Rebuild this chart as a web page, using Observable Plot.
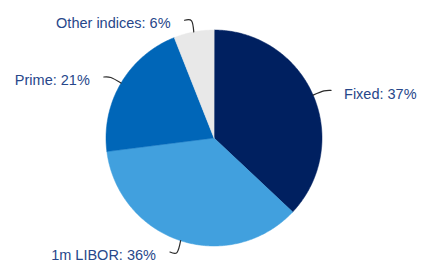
<!DOCTYPE html>
<html><head><meta charset="utf-8">
<script src="https://cdn.jsdelivr.net/npm/d3@7"></script>
<script src="https://cdn.jsdelivr.net/npm/@observablehq/plot@0.6"></script>
<style>body{margin:0;background:#fff}</style>
</head><body><div id="chart"></div>
<script>
const categories = ["Fixed", "1m LIBOR", "Prime", "Other indices"];
const shares = [37, 36, 21, 6];
const colors = ["#002060", "#41a0de", "#0066b8", "#e8e8e8"];

const W = 421, H = 271, R = 108, CX = 213.5, CY = 137.5;
const total = d3.sum(shares);
const slices = [];
let acc = 0;
categories.forEach((name, i) => {
  const a0 = acc / total * 2 * Math.PI;
  acc += shares[i];
  const a1 = acc / total * 2 * Math.PI;
  slices.push({name, value: shares[i], a0, a1, mid: (a0 + a1) / 2});
});

// wedge polygons
const wedgePts = [];
for (const s of slices) {
  wedgePts.push({name: s.name, x: 0, y: 0});
  const n = Math.max(2, Math.ceil((s.a1 - s.a0) / 0.01));
  for (let k = 0; k <= n; k++) {
    const a = s.a0 + (s.a1 - s.a0) * k / n;
    wedgePts.push({name: s.name, x: Math.sin(a), y: Math.cos(a)});
  }
}

// leader lines and labels
const hseg = 7 / R;
const leaderPts = [];
const labels = [];
for (const s of slices) {
  const sx = Math.sin(s.mid), sy = Math.cos(s.mid);
  const side = sx >= 0 ? 1 : -1;
  const r2 = 1.11;
  const ex = sx * r2 + side * hseg, ey = sy * r2;
  leaderPts.push({name: s.name, x: sx, y: sy});
  leaderPts.push({name: s.name, x: sx * r2, y: sy * r2 - 0.005});
  leaderPts.push({name: s.name, x: ex, y: ey});
  labels.push({name: s.name, x: ex, y: ey, side, text: `${s.name}: ${s.value}%`});
}

const chart = Plot.plot({
  width: W, height: H,
  margin: 0,
  x: {domain: [-CX / R, (W - CX) / R], axis: null},
  y: {domain: [-(H - CY) / R, CY / R], axis: null},
  color: {domain: categories, range: colors},
  style: {fontFamily: "'Liberation Sans', Arial, sans-serif", background: "#fff"},
  marks: [
    Plot.line(wedgePts, {x: "x", y: "y", z: "name", fill: "name", stroke: "name", strokeWidth: 0.5, curve: "linear-closed"}),
    Plot.line(leaderPts, {x: "x", y: "y", z: "name", stroke: "#2b2b2b", strokeWidth: 1.2, curve: "natural"}),
    Plot.text(labels.filter(d => d.side > 0), {x: "x", y: "y", text: "text", textAnchor: "start", dx: 13, dy: 4, fill: "#27478a", fontSize: 14.5}),
    Plot.text(labels.filter(d => d.side < 0), {x: "x", y: "y", text: "text", textAnchor: "end", dx: -14, dy: 3, fill: "#27478a", fontSize: 14.5})
  ]
});
document.getElementById("chart").append(chart);
</script>
</body></html>
